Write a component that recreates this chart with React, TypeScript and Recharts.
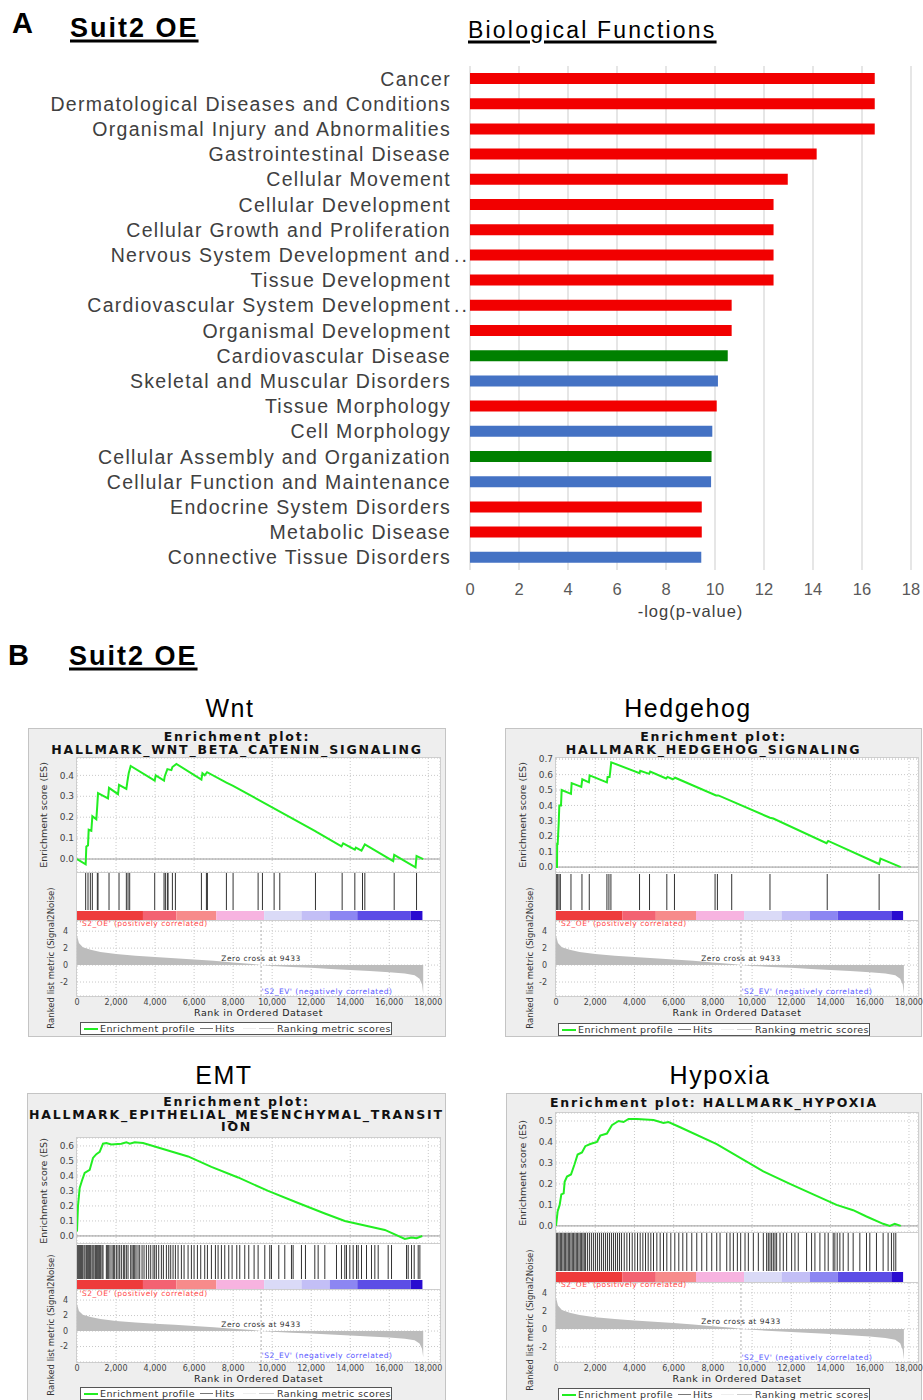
import React from 'react'
import {
  BarChart, Bar, Cell, XAxis, YAxis, CartesianGrid,
  LineChart, Line, AreaChart, Area, ComposedChart, Scatter,
  ReferenceLine, ReferenceArea, ReferenceDot,
} from 'recharts'

// ---- A: IPA biological functions ----
const functionNames = [
  'Cancer',
  'Dermatological Diseases and Conditions',
  'Organismal Injury and Abnormalities',
  'Gastrointestinal Disease',
  'Cellular Movement',
  'Cellular Development',
  'Cellular Growth and Proliferation',
  'Nervous System Development and…',
  'Tissue Development',
  'Cardiovascular System Development…',
  'Organismal Development',
  'Cardiovascular Disease',
  'Skeletal and Muscular Disorders',
  'Tissue Morphology',
  'Cell Morphology',
  'Cellular Assembly and Organization',
  'Cellular Function and Maintenance',
  'Endocrine System Disorders',
  'Metabolic Disease',
  'Connective Tissue Disorders',
]
const functionScores = [16.52, 16.52, 16.52, 14.15, 12.97, 12.39, 12.39, 12.39, 12.39, 10.68,
  10.68, 10.52, 10.12, 10.07, 9.89, 9.86, 9.84, 9.46, 9.46, 9.44]
const functionGroups = ['a', 'a', 'a', 'a', 'a', 'a', 'a', 'a', 'a', 'a',
  'a', 'b', 'c', 'a', 'c', 'b', 'c', 'a', 'a', 'c']
const scoreTicks = [0, 2, 4, 6, 8, 10, 12, 14, 16, 18]

// ---- B: GSEA enrichment plots ----
const rankTicks = [0, 2000, 4000, 6000, 8000, 10000, 12000, 14000, 16000, 18000]
const metricTicks = [-2, 0, 2, 4]
const zeroCross = 9433
const heatBreaks = [0, 3380, 5090, 7140, 9590, 11500, 12950, 14360, 17100, 17700]

// ranked list metric (signal2noise), same dataset in every panel
const metricProfile: [number, number][] = [
  [0, 3.5], [100, 2.6], [300, 2.1], [700, 1.8], [1200, 1.55], [2000, 1.3], [3000, 1.1],
  [4000, 0.95], [5000, 0.8], [6000, 0.65], [7000, 0.5], [8000, 0.3], [9000, 0.12],
  [9433, 0], [10000, -0.1], [11000, -0.22], [12000, -0.33], [13000, -0.45], [14000, -0.57],
  [15000, -0.7], [16000, -0.85], [16800, -1.0], [17300, -1.2], [17550, -1.6], [17680, -2.3],
  [17740, -3.4],
]

const wntProfile: [number, number][] = [
  [0, 0], [444, -0.025], [478, 0.06], [564, 0.065], [598, 0.14], [735, 0.135], [786, 0.205],
  [991, 0.19], [1042, 0.26], [1077, 0.315], [1589, 0.29], [1640, 0.34], [2102, 0.31],
  [2153, 0.355], [2529, 0.335], [2581, 0.37], [2649, 0.41], [2751, 0.445], [3982, 0.375],
  [4033, 0.4], [4460, 0.375], [4495, 0.395], [4631, 0.43], [4836, 0.425], [4888, 0.44],
  [5093, 0.455], [6375, 0.38], [6426, 0.41], [6545, 0.4], [6665, 0.415], [7656, 0.365],
  [7998, 0.35], [12185, 0.135], [12271, 0.13], [13552, 0.06], [13638, 0.075], [14236, 0.045],
  [14288, 0.055], [14578, 0.04], [14664, 0.055], [14749, 0.07], [16202, -0.01], [16253, 0.02],
  [17347, -0.04], [17398, 0.015], [17740, 0],
]
const wntHits = [444, 564, 684, 786, 1042, 1077, 1641, 2153, 2529, 2615, 2700, 3982, 4460,
  4529, 4631, 4666, 4888, 5042, 6375, 6631, 6682, 7656, 7998, 9280, 9502, 10100, 10391,
  12219, 13586, 14236, 14629, 14749, 16253, 17398]

const hedgehogProfile: [number, number][] = [
  [0, 0], [51, 0], [60, 0.15], [85, 0.15], [136, 0.28], [170, 0.4], [255, 0.4], [289, 0.5],
  [764, 0.475], [798, 0.545], [1290, 0.52], [1341, 0.57], [1680, 0.55], [1714, 0.595],
  [2596, 0.55], [2630, 0.585], [2732, 0.585], [2766, 0.62], [2817, 0.68], [4260, 0.61],
  [4294, 0.625], [4752, 0.605], [4803, 0.62], [5617, 0.575], [5685, 0.585], [5956, 0.57],
  [6075, 0.58], [8163, 0.465], [8281, 0.465], [10912, 0.32], [11082, 0.315], [13797, 0.155],
  [13881, 0.17], [16478, 0.02], [16546, 0.055], [17581, 0],
]
const hedgehogHits = [17, 85, 153, 221, 764, 1324, 1697, 2596, 2698, 2800, 4260, 4769, 5651,
  6041, 8112, 8231, 8960, 10912, 13831, 16478]

const emtProfile: [number, number][] = [
  [0, 0.03], [51, 0.2], [137, 0.32], [256, 0.37], [393, 0.42], [649, 0.44], [820, 0.52],
  [991, 0.545], [1162, 0.56], [1333, 0.615], [1504, 0.62], [1760, 0.61], [2273, 0.615],
  [2529, 0.625], [2700, 0.615], [2957, 0.625], [3384, 0.62], [4153, 0.59], [5178, 0.55],
  [5691, 0.53], [6887, 0.46], [8254, 0.39], [9792, 0.3], [11331, 0.22], [12698, 0.15],
  [13723, 0.1], [14920, 0.065], [15774, 0.04], [16800, -0.02], [17142, -0.01], [17398, -0.015],
  [17689, 0],
]
const emtHits = [17, 85, 137, 188, 239, 291, 359, 410, 479, 530, 598, 649, 701, 769, 820, 872,
  940, 991, 1042, 1111, 1162, 1213, 1282, 1333, 1504, 1555, 1624, 1692, 1794, 1863, 1931, 2017,
  2102, 2187, 2273, 2375, 2444, 2529, 2615, 2751, 2820, 2888, 2957, 3025, 3127, 3213, 3333,
  3435, 3555, 3674, 3777, 3897, 3982, 4067, 4187, 4324, 4426, 4580, 4700, 4802, 4922, 5042,
  5178, 5349, 5486, 5691, 5862, 5999, 6170, 6340, 6545, 6682, 6887, 7092, 7229, 7400, 7571,
  7776, 7947, 8186, 8340, 8596, 8801, 9075, 9280, 9622, 9878, 9963, 10339, 10647, 10989,
  11074, 11501, 11706, 12185, 12356, 12698, 13296, 13552, 13723, 13809, 13980, 14151, 14322,
  14407, 14578, 14834, 15090, 15261, 15432, 15945, 16116, 16885, 16970, 17141, 17278, 17483,
  17569]

const hypoxiaProfile: [number, number][] = [
  [0, 0], [85, 0.07], [187, 0.1], [272, 0.15], [390, 0.155], [441, 0.21], [560, 0.235],
  [764, 0.245], [933, 0.29], [1103, 0.34], [1324, 0.35], [1493, 0.38], [1748, 0.39],
  [2087, 0.4], [2257, 0.43], [2596, 0.44], [2851, 0.48], [3190, 0.5], [3445, 0.495],
  [3699, 0.51], [4124, 0.51], [4972, 0.505], [5481, 0.49], [5736, 0.495], [6330, 0.47],
  [8196, 0.39], [10572, 0.26], [11930, 0.2], [13118, 0.15], [14306, 0.1], [15154, 0.075],
  [15833, 0.045], [16682, 0.01], [17021, 0], [17275, 0.01], [17581, 0],
]
const hypoxiaHits = [17, 85, 153, 221, 288, 356, 424, 492, 560, 628, 696, 764, 831, 899, 967,
  1035, 1103, 1171, 1239, 1307, 1375, 1442, 1510, 1612, 1714, 1816, 1918, 2019, 2121, 2223,
  2325, 2427, 2529, 2630, 2732, 2834, 2936, 3038, 3140, 3241, 3343, 3479, 3615, 3750, 3886,
  4022, 4158, 4293, 4429, 4565, 4701, 4836, 4972, 5142, 5312, 5482, 5651, 5855, 6058, 6262,
  6466, 6669, 6924, 7178, 7433, 7687, 7942, 8196, 8366, 8706, 8875, 9045, 9249, 9418, 9639,
  9809, 10063, 10318, 10572, 10742, 10827, 10912, 10997, 11082, 11167, 11252, 11421, 11591,
  11761, 12015, 12185, 12354, 12778, 13033, 13203, 13457, 13712, 13881, 14136, 14221, 14340,
  14476, 14645, 14900, 15154, 15494, 15833, 16003, 16342, 16682, 16936, 17106, 17225, 17327]

const wntTicks = [0, 0.1, 0.2, 0.3, 0.4]
const hedgehogTicks = [0, 0.1, 0.2, 0.3, 0.4, 0.5, 0.6, 0.7]
const emtTicks = [0, 0.1, 0.2, 0.3, 0.4, 0.5, 0.6]
const hypoxiaTicks = [0, 0.1, 0.2, 0.3, 0.4, 0.5]

// styles
const ARIAL = '"Liberation Sans", Arial, sans-serif'
const DEJAVU = '"DejaVu Sans", sans-serif'
const GROUP_COLORS: Record<string, string> = { a: '#f20000', b: '#008000', c: '#4472c4' }
const HEAT_COLORS = ['#ee3b3b', '#f36272', '#f78b8b', '#f7b3e0', '#dadaf7', '#c3bff6', '#8c86f2', '#5c4de6', '#2a0cd0']
const ES_GREEN = '#22ee22'

const Txt = ({ x, y, size, text, family = ARIAL, weight = 400, spacing = 0, color = '#000', align = 'left', underline = false, rotate = false }: any) => {
  const tx = align === 'center' ? '-50%' : align === 'right' ? '-100%' : '0'
  return (
    <div style={{
      position: 'absolute', left: x, top: y, fontSize: size, lineHeight: 1, fontFamily: family,
      fontWeight: weight, letterSpacing: spacing, color, whiteSpace: 'nowrap',
      transform: rotate ? 'translate(-50%,-50%) rotate(-90deg)' : `translate(${tx},-50%)`,
      textDecoration: underline ? 'underline' : 'none',
      textDecorationThickness: underline ? 3 : undefined,
      textUnderlineOffset: underline ? 3 : undefined,
    }}>{text}</div>
  )
}

// category tick: truncated names keep their dots past the anchor, like the source
const FunctionTick = ({ x, y, payload }: any) => {
  const v: string = payload.value
  const cut = v.endsWith('…')
  return (
    <g>
      <text x={x} y={y} dy="0.355em" textAnchor="end" fontSize={19.5} fill="#404040" style={{ letterSpacing: '1.3px' }}>
        {cut ? v.slice(0, -1) : v}
      </text>
      {cut && <text x={x + 3} y={y} dy="0.355em" textAnchor="start" fontSize={19.5} fill="#404040" style={{ letterSpacing: '2px' }}>..</text>}
    </g>
  )
}

const functionData = functionNames.map((name, i) => ({ name, value: functionScores[i], group: functionGroups[i] }))

function FunctionsChart() {
  return (
    <div style={{ position: 'absolute', left: 0, top: 0 }}>
      <BarChart width={923} height={625} layout="vertical" data={functionData}
        margin={{ top: 66, right: 12, bottom: 5, left: 0 }}>
        <CartesianGrid horizontal={false} stroke="#d9d9d9" strokeWidth={1.3} />
        <XAxis type="number" domain={[0, 18]} ticks={scoreTicks} interval={0} axisLine={false} tickLine={false}
          height={50} tickMargin={7} tick={{ fontSize: 16.5, fill: '#595959' }}
          label={{ value: '-log(p-value)', position: 'insideBottom', offset: 3, fontSize: 16.5, fill: '#404040', style: { letterSpacing: '1px' } }} />
        <YAxis type="category" dataKey="name" width={470} axisLine={false} tickLine={false} tickMargin={13}
          interval={0} tick={<FunctionTick />} />
        <Bar dataKey="value" barSize={11} isAnimationActive={false}>
          {functionData.map((d, i) => <Cell key={i} fill={GROUP_COLORS[d.group]} />)}
        </Bar>
      </BarChart>
    </div>
  )
}

type Geom = {
  box: number[]; titleY: number; plotLeft: number; plotWidth: number; rankMax: number
  esTop: number; esBottom: number; hitsTop: number; barTop: number; barBottom: number
  metricTop: number; metricBottom: number; metricLabelY: number
  legendLeft: number; legendTop: number; legendWidth: number
}

function GseaPanel({ g, title, profile, hits, esDomain, esTicks, metricDomain }: any) {
  const geo: Geom = g
  const yw = 30
  const pad = 6
  const esData = profile.map(([rank, es]: number[]) => ({ rank, es }))
  const metricData = metricProfile.map(([rank, metric]) => ({ rank, metric }))
  const hitData = hits.map((rank: number) => ({ rank, hit: 1 }))
  const hitsH = geo.barBottom - geo.hitsTop
  const barFrac = (geo.barBottom - geo.barTop) / hitsH
  const stickLen = geo.barTop - geo.hitsTop - 1
  const [bx, by, bw, bh] = geo.box
  const tickStyle = { fontSize: 9, fill: '#444' }
  // each hit drawn as a vertical stick hanging from its scaled position
  const HitStick = (p: any) => (
    <line x1={p.cx} x2={p.cx} y1={p.cy} y2={p.cy + stickLen} stroke="#333" strokeWidth={1} />
  )
  return (
    <div style={{ fontFamily: DEJAVU }}>
      <div style={{ position: 'absolute', left: bx, top: by, width: bw, height: bh, background: '#eeeeee', border: '1px solid #c4c4c4', boxSizing: 'border-box' }} />
      {title.map((t: string, i: number) => (
        <Txt key={i} x={bx + bw / 2} y={geo.titleY + i * 12.5} size={12.5} weight={700} family={DEJAVU} spacing={1.8} align="center" text={t} color="#111" />
      ))}
      <div style={{ position: 'absolute', left: geo.plotLeft - 1, top: geo.esTop - 1, width: geo.plotWidth + 2, height: geo.metricBottom - geo.esTop + 2, background: '#fff', border: '1px solid #cfcfcf', boxSizing: 'border-box' }} />
      <div style={{ position: 'absolute', left: geo.plotLeft, top: geo.esBottom, width: geo.plotWidth, height: 1, background: '#cfcfcf' }} />
      <div style={{ position: 'absolute', left: geo.plotLeft, top: geo.barBottom, width: geo.plotWidth, height: 1, background: '#cfcfcf' }} />

      <Txt x={geo.plotLeft - 33} y={(geo.esTop + geo.esBottom) / 2} size={9.5} family={DEJAVU} color="#333" rotate text="Enrichment score (ES)" />
      <Txt x={geo.plotLeft - 26} y={geo.metricLabelY} size={8.5} family={DEJAVU} color="#333" rotate text="Ranked list metric (Signal2Noise)" />

      <div style={{ position: 'absolute', left: geo.plotLeft - yw, top: geo.esTop - pad }}>
        <LineChart width={geo.plotWidth + yw} height={geo.esBottom - geo.esTop + 2 * pad} data={esData}
          margin={{ top: pad, right: 0, bottom: pad, left: 0 }}>
          <CartesianGrid strokeDasharray="1 2" stroke="#c8c8c8" />
          <XAxis dataKey="rank" type="number" domain={[0, geo.rankMax]} ticks={rankTicks} hide allowDataOverflow />
          <YAxis type="number" domain={esDomain} ticks={esTicks} width={yw} allowDataOverflow interval={0}
            tickLine={false} axisLine={false} tickSize={0} tickMargin={3} tick={tickStyle}
            tickFormatter={(v: number) => v.toFixed(1)} />
          <ReferenceLine y={0} stroke="#9a9a9a" />
          <Line type="linear" dataKey="es" stroke={ES_GREEN} strokeWidth={2} dot={false} isAnimationActive={false} />
        </LineChart>
      </div>

      <div style={{ position: 'absolute', left: geo.plotLeft, top: geo.hitsTop }}>
        <ComposedChart width={geo.plotWidth} height={hitsH} data={hitData} margin={{ top: 0, right: 0, bottom: 0, left: 0 }}>
          <XAxis dataKey="rank" type="number" domain={[0, geo.rankMax]} hide allowDataOverflow />
          <YAxis type="number" domain={[0, 1]} hide allowDataOverflow />
          {heatBreaks.slice(1).map((x2, i) => (
            <ReferenceArea key={'h' + i} x1={heatBreaks[i]} x2={x2} y1={0} y2={barFrac}
              fill={HEAT_COLORS[i]} fillOpacity={1} stroke="none" />
          ))}
          <Scatter dataKey="hit" shape={HitStick} isAnimationActive={false} />
        </ComposedChart>
      </div>

      <div style={{ position: 'absolute', left: geo.plotLeft - yw, top: geo.metricTop - pad }}>
        <AreaChart width={geo.plotWidth + yw + 14} height={geo.metricBottom - geo.metricTop + pad + 16} data={metricData}
          margin={{ top: pad, right: 14, bottom: 0, left: 0 }}>
          <CartesianGrid strokeDasharray="1 2" stroke="#c8c8c8" />
          <XAxis dataKey="rank" type="number" domain={[0, geo.rankMax]} ticks={rankTicks} interval={0} height={16}
            allowDataOverflow tickLine={false} axisLine={false} tickSize={3} tickMargin={0}
            tick={{ fontSize: 8, fill: '#444' }} tickFormatter={(v: number) => v.toLocaleString('en-US')} />
          <YAxis type="number" domain={metricDomain} ticks={metricTicks} width={yw} allowDataOverflow interval={0}
            tickLine={false} axisLine={false} tickSize={0} tickMargin={9} tick={{ fontSize: 8, fill: '#444' }} />
          <Area type="linear" dataKey="metric" stroke="none" fill="#bcbcbc" fillOpacity={1} baseValue={0} isAnimationActive={false} />
          <ReferenceLine x={zeroCross} stroke="#b0b0b0" strokeDasharray="2 2" />
          <ReferenceDot x={0} y={4.9} r={0.5} fill="none" stroke="none"
            label={{ value: "'S2_OE' (positively correlated)", position: 'right', offset: 2, fontSize: 7.5, fill: '#ff4a4a', style: { letterSpacing: '0.5px' } }} />
          <ReferenceDot x={zeroCross} y={0.85} r={0.5} fill="none" stroke="none"
            label={{ value: 'Zero cross at 9433', position: 'center', fontSize: 7.5, fill: '#333', style: { letterSpacing: '0.5px' } }} />
          <ReferenceDot x={zeroCross} y={-3.1} r={0.5} fill="none" stroke="none"
            label={{ value: "'S2_EV' (negatively correlated)", position: 'right', offset: 0, fontSize: 7.5, fill: '#5a5aff', style: { letterSpacing: '0.5px' } }} />
        </AreaChart>
      </div>

      <Txt x={geo.plotLeft + geo.plotWidth / 2} y={geo.metricBottom + 17} size={9.5} family={DEJAVU} spacing={0.5} align="center" color="#222" text="Rank in Ordered Dataset" />

      <div style={{ position: 'absolute', left: geo.legendLeft, top: geo.legendTop, width: geo.legendWidth, height: 13, border: '1px solid #555', background: '#fff', boxSizing: 'border-box', display: 'flex', alignItems: 'center', fontSize: 9.5, letterSpacing: 0.4, color: '#333', whiteSpace: 'nowrap', paddingLeft: 3 }}>
        <span style={{ display: 'inline-block', width: 14, height: 2, background: ES_GREEN, marginRight: 2 }} />
        <span>Enrichment profile</span>
        <span style={{ display: 'inline-block', width: 13, height: 1.5, background: '#777', margin: '0 2px 0 5px' }} />
        <span>Hits</span>
        <span style={{ display: 'inline-block', width: 13, height: 1, background: '#eee', margin: '0 3px 0 8px' }} />
        <span style={{ display: 'inline-block', width: 15, height: 1, background: '#ccc', marginRight: 3 }} />
        <span>Ranking metric scores</span>
      </div>
    </div>
  )
}

const wntGeom: Geom = {
  box: [28, 728, 418, 309], titleY: 737, plotLeft: 77, plotWidth: 363, rankMax: 18600,
  esTop: 758, esBottom: 872, hitsTop: 873, barTop: 911, barBottom: 920,
  metricTop: 921, metricBottom: 996, metricLabelY: 958,
  legendLeft: 80, legendTop: 1022, legendWidth: 312,
}
const hedgehogGeom: Geom = {
  box: [505, 728, 417, 309], titleY: 737, plotLeft: 556, plotWidth: 362, rankMax: 18460,
  esTop: 758, esBottom: 872, hitsTop: 874, barTop: 911, barBottom: 920,
  metricTop: 921, metricBottom: 996, metricLabelY: 958,
  legendLeft: 558, legendTop: 1023, legendWidth: 312,
}
const emtGeom: Geom = {
  box: [27, 1093, 419, 320], titleY: 1102, plotLeft: 77, plotWidth: 363, rankMax: 18600,
  esTop: 1138, esBottom: 1243, hitsTop: 1245, barTop: 1280, barBottom: 1289,
  metricTop: 1290, metricBottom: 1362, metricLabelY: 1325,
  legendLeft: 80, legendTop: 1387, legendWidth: 312,
}
const hypoxiaGeom: Geom = {
  box: [506, 1093, 416, 320], titleY: 1103, plotLeft: 556, plotWidth: 362, rankMax: 18460,
  esTop: 1113, esBottom: 1232, hitsTop: 1233, barTop: 1272, barBottom: 1282,
  metricTop: 1283, metricBottom: 1362, metricLabelY: 1320,
  legendLeft: 558, legendTop: 1388, legendWidth: 312,
}

export default function App() {
  return (
    <div style={{ position: 'absolute', left: 0, top: 0, width: 923, height: 1400, overflow: 'hidden', background: '#fff', fontFamily: ARIAL }}>
      <Txt x={12} y={22.5} size={29} weight={700} text="A" />
      <Txt x={70} y={28} size={27} weight={700} spacing={2} underline text="Suit2 OE" />
      <Txt x={468} y={30} size={23} spacing={2.2} underline text="Biological Functions" />
      <FunctionsChart />

      <Txt x={8} y={655} size={29} weight={700} text="B" />
      <Txt x={69} y={656} size={27} weight={700} spacing={2} underline text="Suit2 OE" />

      <Txt x={230} y={708} size={25} spacing={1.5} align="center" text="Wnt" />
      <Txt x={688} y={708} size={25} spacing={1.5} align="center" text="Hedgehog" />
      <Txt x={224} y={1075} size={25} spacing={1.5} align="center" text="EMT" />
      <Txt x={720} y={1075} size={25} spacing={1.5} align="center" text="Hypoxia" />

      <GseaPanel g={wntGeom} title={['Enrichment plot:', 'HALLMARK_WNT_BETA_CATENIN_SIGNALING']}
        profile={wntProfile} hits={wntHits} esDomain={[-0.062, 0.483]} esTicks={wntTicks} metricDomain={[-3.65, 5.2]} />
      <GseaPanel g={hedgehogGeom} title={['Enrichment plot:', 'HALLMARK_HEDGEHOG_SIGNALING']}
        profile={hedgehogProfile} hits={hedgehogHits} esDomain={[-0.032, 0.708]} esTicks={hedgehogTicks} metricDomain={[-3.65, 5.2]} />
      <GseaPanel g={emtGeom} title={['Enrichment plot:', 'HALLMARK_EPITHELIAL_MESENCHYMAL_TRANSIT', 'ION']}
        profile={emtProfile} hits={emtHits} esDomain={[-0.047, 0.653]} esTicks={emtTicks} metricDomain={[-4.0, 5.3]} />
      <GseaPanel g={hypoxiaGeom} title={['Enrichment plot: HALLMARK_HYPOXIA']}
        profile={hypoxiaProfile} hits={hypoxiaHits} esDomain={[-0.029, 0.538]} esTicks={hypoxiaTicks} metricDomain={[-3.67, 5.1]} />
    </div>
  )
}
